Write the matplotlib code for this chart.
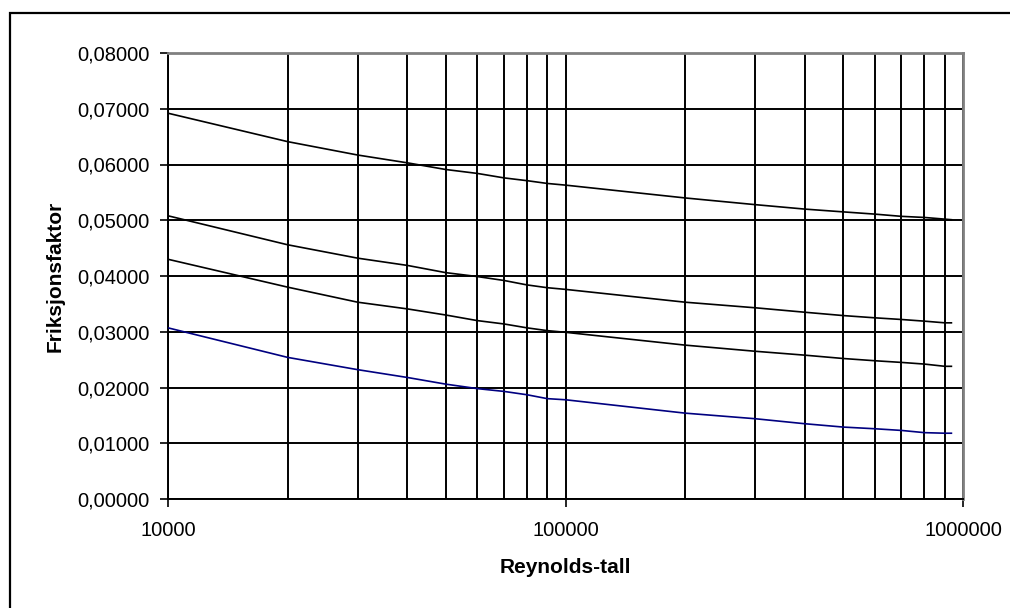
import numpy as np
import matplotlib
matplotlib.use("Agg")
import matplotlib.pyplot as plt
from matplotlib.ticker import FixedLocator, FuncFormatter, NullFormatter, NullLocator
from matplotlib.patches import Rectangle

plt.rcParams['font.family'] = ['Liberation Sans', 'DejaVu Sans']

re = [10000, 20000, 30000, 40000, 50000, 60000, 70000, 80000, 90000,
      100000, 200000, 300000, 400000, 500000, 600000, 700000, 800000,
      900000, 935000]

# friction factor curves (top to bottom)
f1 = [0.0692, 0.0641, 0.0617, 0.0603, 0.0591, 0.0584, 0.0576, 0.0571, 0.0566,
      0.0563, 0.0540, 0.0528, 0.0520, 0.0515, 0.0511, 0.0507, 0.0505, 0.0502, 0.0501]
f2 = [0.0508, 0.0456, 0.0432, 0.0419, 0.0406, 0.0399, 0.0392, 0.0384, 0.0379,
      0.0376, 0.0353, 0.0343, 0.0335, 0.0329, 0.0325, 0.0322, 0.0319, 0.0316, 0.0316]
f3 = [0.0430, 0.0380, 0.0353, 0.0341, 0.0330, 0.0320, 0.0314, 0.0307, 0.0302,
      0.0299, 0.0276, 0.0265, 0.0258, 0.0252, 0.0248, 0.0245, 0.0242, 0.0238, 0.0238]
f4 = [0.0307, 0.0254, 0.0232, 0.0218, 0.0206, 0.0198, 0.0193, 0.0187, 0.0180,
      0.0178, 0.0154, 0.0144, 0.0135, 0.0129, 0.0126, 0.0123, 0.0119, 0.0118, 0.0118]

yticks = [0.0, 0.01, 0.02, 0.03, 0.04, 0.05, 0.06, 0.07, 0.08]
xticks = [10000, 100000, 1000000]

fig = plt.figure(figsize=(10.10, 6.08), dpi=100)
ax = fig.add_axes([168/1010, 1 - 499/608, 795/1010, 446/608])

# outer chart frame (cut off at right and bottom)
fig.patches.append(Rectangle((10/1010, -0.05), 1.2, 1 - 13/608 + 0.05,
                             transform=fig.transFigure, fill=False,
                             edgecolor='black', linewidth=1.6))

for f in (f1, f2, f3):
    ax.plot(re, f, color='black', linewidth=1.2, zorder=3)
ax.plot(re, f4, color='#000080', linewidth=1.2, zorder=3)

ax.set_xscale('log')
ax.set_xlim(10000, 1000000)
ax.set_ylim(0, 0.08)

ax.xaxis.set_major_locator(FixedLocator(xticks))
minor = [m * 10**e for e in (4, 5) for m in range(2, 10)]
ax.xaxis.set_minor_locator(FixedLocator(minor))
ax.xaxis.set_major_formatter(FuncFormatter(lambda v, p: f"{int(round(v))}"))
ax.xaxis.set_minor_formatter(NullFormatter())
ax.yaxis.set_major_locator(FixedLocator(yticks))
ax.yaxis.set_minor_locator(NullLocator())
ax.yaxis.set_major_formatter(FuncFormatter(lambda v, p: f"{v:.5f}".replace('.', ',')))

ax.grid(True, which='major', color='black', linewidth=1.4)
ax.grid(True, which='minor', axis='x', color='black', linewidth=1.4)
ax.set_axisbelow(True)

ax.tick_params(axis='both', which='major', direction='out', length=6, width=1.2,
               color='black', labelsize=14.5)
ax.tick_params(axis='x', which='major', pad=10)
ax.tick_params(axis='y', which='major', pad=7)
ax.tick_params(axis='x', which='minor', length=0)

for side in ('left', 'bottom'):
    ax.spines[side].set_color('black')
    ax.spines[side].set_linewidth(1.4)
for side in ('top', 'right'):
    ax.spines[side].set_color('#808080')
    ax.spines[side].set_linewidth(2.0)

ax.set_xlabel('Reynolds-tall', fontsize=15, fontweight='bold', labelpad=13)
ax.set_ylabel('Friksjonsfaktor', fontsize=15, fontweight='bold', labelpad=9)

fig.savefig('out.png', dpi=100)
